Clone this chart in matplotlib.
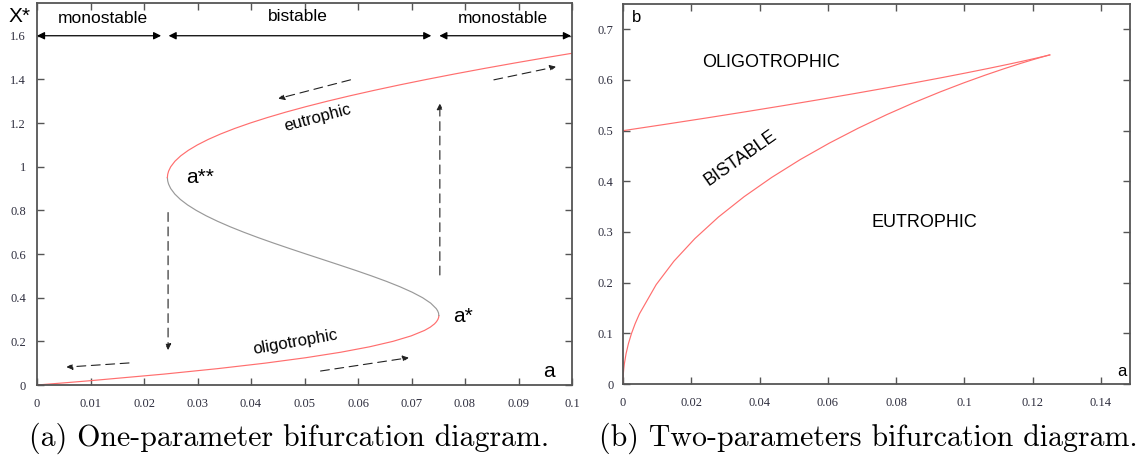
import matplotlib
matplotlib.use("Agg")
import matplotlib.pyplot as plt

# ---------------- data: one-parameter diagram (X* vs a)
x_low = [0.0, 0.01, 0.02, 0.05, 0.075, 0.1, 0.125, 0.15, 0.175, 0.2, 0.225, 0.25, 0.265,
         0.28, 0.29, 0.3, 0.31, 0.318]
a_low = [0.0, 0.00515, 0.0101, 0.02376, 0.03378, 0.0426, 0.05024, 0.05675, 0.06216, 0.06654,
         0.06994, 0.07243, 0.07351, 0.0743, 0.07467, 0.07493, 0.07508, 0.07511]
x_mid = [0.318, 0.33, 0.34, 0.35, 0.375, 0.4, 0.425, 0.45, 0.475, 0.5, 0.525, 0.55, 0.575,
         0.6, 0.625, 0.65, 0.675, 0.7, 0.725, 0.75, 0.775, 0.8, 0.825, 0.85, 0.875, 0.9,
         0.92, 0.935, 0.95]
a_mid = [0.07511, 0.07505, 0.07488, 0.07462, 0.07359, 0.07207, 0.07013, 0.06785, 0.06529,
         0.0625, 0.05956, 0.0565, 0.0534, 0.05029, 0.04723, 0.04424, 0.04136, 0.03864,
         0.03609, 0.03375, 0.03163, 0.02976, 0.02814, 0.0268, 0.02575, 0.02499, 0.0246,
         0.02443, 0.02437]
x_up = [0.95, 0.965, 0.98, 1.0, 1.025, 1.05, 1.075, 1.1, 1.125, 1.15, 1.175, 1.2, 1.225,
        1.25, 1.275, 1.3, 1.325, 1.35, 1.375, 1.4, 1.425, 1.45, 1.475, 1.5, 1.52]
a_up = [0.02437, 0.02443, 0.0246, 0.025, 0.02578, 0.02687, 0.02828, 0.02999, 0.032, 0.03432,
        0.03693, 0.03984, 0.04303, 0.04649, 0.05024, 0.05425, 0.05852, 0.06305, 0.06782,
        0.07284, 0.07809, 0.08357, 0.08927, 0.09519, 0.10008]

# ---------------- data: two-parameter diagram (b vs a)
a_fold_low = [0.0, 0.000025, 0.0001, 0.000225, 0.0004, 0.000898, 0.001592, 0.00248, 0.003561,
              0.004829, 0.00971, 0.014911, 0.02104, 0.027949, 0.0355, 0.043542, 0.0519,
              0.060421, 0.06893, 0.077281, 0.08531, 0.092888, 0.09988, 0.106178, 0.11168,
              0.116311, 0.12, 0.122698, 0.12437, 0.125]
b_fold_low = [0.0, 0.01, 0.02, 0.02999, 0.03997, 0.05989, 0.07974, 0.0995, 0.11914,
              0.13864, 0.19606, 0.24237, 0.28694, 0.32951, 0.36982, 0.40768, 0.44291,
              0.47538, 0.50501, 0.53174, 0.55555, 0.57647, 0.59453, 0.6098, 0.6224,
              0.63243, 0.64, 0.64528, 0.64839, 0.6495]
a_fold_up = [0.125, 0.12457, 0.123092, 0.12058, 0.117059, 0.11256, 0.107128, 0.1008,
             0.093628, 0.08566, 0.076961, 0.06757, 0.057561, 0.04698, 0.035876, 0.02431,
             0.012336, 0.0]
b_fold_up = [0.6495, 0.6488, 0.64638, 0.64245, 0.63714, 0.6306, 0.62298, 0.6144, 0.60499,
             0.59488, 0.58417, 0.57297, 0.56136, 0.54943, 0.53727, 0.52493, 0.51249, 0.5]

xticks_a = [0, 0.01, 0.02, 0.03, 0.04, 0.05, 0.06, 0.07, 0.08, 0.09, 0.1]
xticklabels_a = ["0", "0.01", "0.02", "0.03", "0.04", "0.05", "0.06", "0.07", "0.08", "0.09", "0.1"]
yticks_a = [0, 0.2, 0.4, 0.6, 0.8, 1.0, 1.2, 1.4, 1.6]
yticklabels_a = ["0", "0.2", "0.4", "0.6", "0.8", "1", "1.2", "1.4", "1.6"]
xticks_b = [0, 0.02, 0.04, 0.06, 0.08, 0.1, 0.12, 0.14]
xticklabels_b = ["0", "0.02", "0.04", "0.06", "0.08", "0.1", "0.12", "0.14"]
yticks_b = [0, 0.1, 0.2, 0.3, 0.4, 0.5, 0.6, 0.7]
yticklabels_b = ["0", "0.1", "0.2", "0.3", "0.4", "0.5", "0.6", "0.7"]

RED = "#ff6e6e"
GRAY = "#999999"
SPINE = "#555555"
TICKC = "#2e2e3e"
SANS = "Liberation Sans"
SERIF = "Liberation Serif"

fig = plt.figure(figsize=(11.38, 4.61), dpi=100)
axA = fig.add_axes([37/1138, 76/461, 535/1138, 382/461])
axB = fig.add_axes([623/1138, 77/461, 507/1138, 380/461])

def style(ax):
    for s in ax.spines.values():
        s.set_color(SPINE)
        s.set_linewidth(1.3)
    ax.tick_params(direction="in", length=5, width=1.0, color=SPINE,
                   top=True, right=True, labelsize=9, labelcolor=TICKC)
    for lab in ax.get_xticklabels() + ax.get_yticklabels():
        lab.set_fontfamily(SERIF)

# ---------------- panel (a)
axA.plot(a_low, x_low, color=RED, lw=0.85)
axA.plot(a_mid, x_mid, color=GRAY, lw=0.85)
axA.plot(a_up, x_up, color=RED, lw=0.85)
axA.set_xlim(0, 0.1)
axA.set_ylim(0, 1.75)
axA.set_xticks(xticks_a)
axA.set_xticklabels(xticklabels_a)
axA.set_yticks(yticks_a)
axA.set_yticklabels(yticklabels_a)
axA.tick_params(axis="x", pad=9)
axA.tick_params(axis="y", pad=8)
style(axA)

# double-headed range arrows
for x0, x1 in [(0.0, 0.0232), (0.0246, 0.0737), (0.0752, 0.0998)]:
    axA.annotate("", xy=(x1, 1.6), xytext=(x0, 1.6),
                 arrowprops=dict(arrowstyle="<|-|>", color="black", lw=0.9,
                                 mutation_scale=11, shrinkA=0, shrinkB=0))
axA.text(0.0123, 1.645, "monostable", ha="center", va="bottom", fontsize=12.5, family=SANS)
axA.text(0.0487, 1.655, "bistable", ha="center", va="bottom", fontsize=12.5, family=SANS)
axA.text(0.0871, 1.645, "monostable", ha="center", va="bottom", fontsize=12.5, family=SANS)

# dashed flow arrows
dashed = [((0.0586, 1.398), (0.0451, 1.312)),
          ((0.0854, 1.398), (0.0970, 1.458)),
          ((0.0753, 0.504), (0.0753, 1.290)),
          ((0.0245, 0.790), (0.0245, 0.160)),
          ((0.0172, 0.101), (0.0055, 0.082)),
          ((0.0530, 0.064), (0.0695, 0.125))]
for (xt, yt), (xh, yh) in dashed:
    axA.annotate("", xy=(xh, yh), xytext=(xt, yt),
                 arrowprops=dict(arrowstyle="-|>", color="#222222", lw=0.8,
                                 linestyle=(0, (8, 5)), mutation_scale=9,
                                 shrinkA=0, shrinkB=0))

axA.text(0.0525, 1.222, "eutrophic", ha="center", va="center", rotation=15,
         fontsize=12, family=SANS)
axA.text(0.0483, 0.195, "oligotrophic", ha="center", va="center", rotation=10,
         fontsize=12, family=SANS)
axA.text(0.0305, 0.95, "a**", ha="center", va="center", fontsize=15, family=SANS)
axA.text(0.0796, 0.316, "a*", ha="center", va="center", fontsize=15, family=SANS)
axA.text(0.0957, 0.06, "a", ha="center", va="center", fontsize=15, family=SANS)
fig.text(20/1138, 1 - 16/461, "X*", ha="center", va="center", fontsize=15, family=SANS)

# ---------------- panel (b)
axB.plot(a_fold_low, b_fold_low, color=RED, lw=0.85)
axB.plot(a_fold_up, b_fold_up, color=RED, lw=0.85)
axB.set_xlim(0, 0.1485)
axB.set_ylim(0, 0.75)
axB.set_xticks(xticks_b)
axB.set_xticklabels(xticklabels_b)
axB.set_yticks(yticks_b)
axB.set_yticklabels(yticklabels_b)
axB.tick_params(axis="x", pad=9)
axB.tick_params(axis="y", pad=7)
style(axB)

axB.text(0.0433, 0.635, "OLIGOTROPHIC", ha="center", va="center", fontsize=13, family=SANS)
axB.text(0.0343, 0.446, "BISTABLE", ha="center", va="center", rotation=35,
         fontsize=13, family=SANS)
axB.text(0.0884, 0.3195, "EUTROPHIC", ha="center", va="center", fontsize=13, family=SANS)
axB.text(0.0026, 0.724, "b", ha="left", va="center", fontsize=12, family=SANS)
axB.text(0.1475, 0.024, "a", ha="right", va="center", fontsize=12, family=SANS)

# ---------------- captions
fig.text(289/1138, 1 - 438/461, "(a) One-parameter bifurcation diagram.",
         ha="center", va="center", fontsize=21.5, family="cmr10")
fig.text(868/1138, 1 - 438/461, "(b) Two-parameters bifurcation diagram.",
         ha="center", va="center", fontsize=21.5, family="cmr10")

fig.savefig("out.png", dpi=100)
